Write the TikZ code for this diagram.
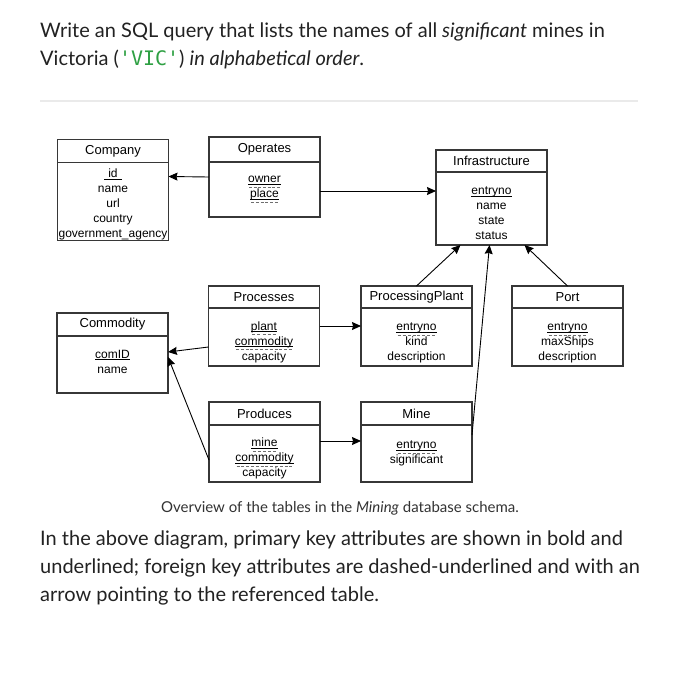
\documentclass[tikz,border=0pt]{standalone}
\usepackage{fontspec}
\setmainfont{Lato}
\setmonofont{DejaVu Sans Mono}
\newfontfamily\erfont{Liberation Sans}
\usetikzlibrary{arrows.meta,positioning}
\definecolor{bodytext}{RGB}{34,34,34}
\definecolor{captext}{RGB}{51,51,51}
\definecolor{codegreen}{RGB}{46,160,67}
\definecolor{rulegray}{RGB}{234,234,234}
\definecolor{boxgray}{RGB}{55,55,55}
\definecolor{dashgray}{RGB}{110,110,110}

% key markers: solid underline, dashed underline for foreign keys
\newcommand\pkey[1]{\setbox0\hbox{#1}\rlap{\rule[-2pt]{\wd0}{0.9pt}}\box0}
\newcommand\fkey[1]{\setbox0\hbox{#1}\rlap{\rule[-2pt]{\wd0}{0.9pt}}%
\rlap{\raisebox{-5pt}{\color{dashgray}\hbox to\wd0{\xleaders\hbox to 4.5pt{\hss\rule{3pt}{0.8pt}\hss}\hfill}}}\box0}
% struts to push the attribute list up or down in its box
\newcommand\padtop[1]{\rule{0pt}{#1}}
\newcommand\padbot[1]{\rule[-#1]{0pt}{0pt}}

\begin{document}
\begin{tikzpicture}[
x=1pt, y=-1pt,
tblhead/.style={
draw=boxgray,
line width=1.1pt,
fill=white,
minimum width=111pt,
minimum height=23pt,
inner sep=0pt,
outer sep=0pt,
font=\erfont\fontsize{13}{15}\selectfont
},
tblbody/.style={
draw=boxgray,
line width=1.1pt,
minimum width=111pt,
align=center,
inner sep=0pt,
outer sep=0pt,
font=\erfont\fontsize{12}{15}\selectfont
},
fkarrow/.style={
-{Stealth[length=9pt,width=8pt,inset=1pt]},
line width=0.9pt,
draw=black
}
]
\fill[white] (0,0) rectangle (691,675);
\useasboundingbox (0,0) rectangle (691,675);

\node[anchor=north west, align=left, inner sep=0pt, text=bodytext,
font=\fontsize{20}{28}\selectfont] (question) at (40,23)
{Write an SQL query that lists the names of all \emph{significant} mines in\\
Victoria (\textcolor{codegreen}{\texttt{\textquotesingle VIC\textquotesingle}}) \emph{in alphabetical order}.};

\draw[rulegray, line width=1.5pt] (40,101) -- (638,101);

\node[tblhead] (company) at (113,151) {Company};
\node[tblbody, minimum height=78pt, below=0pt of company] (companyb)
{\padtop{14.8pt}\pkey{\kern4pt id\kern4pt}\\name\\url\\country\\government\_agency};

\node[tblhead, minimum height=25pt] (operates) at (264.5,149.5) {Operates};
\node[tblbody, minimum height=55pt, below=0pt of operates] (operatesb)
{\fkey{owner}\\\fkey{place}};

\node[tblhead, minimum height=22pt] (infra) at (491.5,161) {Infrastructure};
\node[tblbody, minimum height=73pt, below=0pt of infra] (infrab)
{\padtop{18pt}\pkey{entryno}\\name\\state\\status};

\node[tblhead, minimum height=22pt] (processes) at (264,297) {Processes};
\node[tblbody, minimum height=58pt, below=0pt of processes] (processesb)
{\padtop{18.6pt}\fkey{plant}\\\fkey{commodity}\\capacity};

\node[tblhead] (commodity) at (112.5,324.5) {Commodity};
\node[tblbody, minimum height=57pt, below=0pt of commodity] (commodityb)
{\pkey{comID}\\name\padbot{6pt}};

\node[tblhead, minimum height=22pt] (plant) at (416.5,297) {ProcessingPlant};
\node[tblbody, minimum height=58pt, below=0pt of plant] (plantb)
{\padtop{20pt}\fkey{entryno}\\kind\\description};

\node[tblhead, minimum height=22pt] (port) at (567.5,297) {Port};
\node[tblbody, minimum height=58pt, below=0pt of port] (portb)
{\padtop{20pt}\fkey{entryno}\\maxShips\\description};

\node[tblhead] (produces) at (264.5,413.5) {Produces};
\node[tblbody, minimum height=57pt, below=0pt of produces] (producesb)
{\padtop{18.6pt}\fkey{mine}\\\fkey{commodity}\\capacity};

\node[tblhead] (mine) at (416.5,413.5) {Mine};
\node[tblbody, minimum height=57pt, below=0pt of mine] (mineb)
{\fkey{entryno}\\significant};

\draw[fkarrow] ([yshift=-15pt]operatesb.north west) -- ([yshift=-14pt]companyb.north east);
\draw[fkarrow] ([yshift=-29pt]operatesb.north east) -- ([yshift=-19pt]infrab.north west);
\draw[fkarrow] ([yshift=-18pt]processesb.north east) -- ([yshift=-18pt]plantb.north west);
\draw[fkarrow] ([yshift=-39pt]processesb.north west) -- ([yshift=-16pt]commodityb.north east);
\draw[fkarrow] ([yshift=-35pt]producesb.north west) -- ([yshift=-21pt]commodityb.north east);
\draw[fkarrow] ([yshift=-16pt]producesb.north east) -- ([yshift=-16pt]mineb.north west);
\draw[fkarrow] ([yshift=-10pt]mineb.north east) -- ([xshift=-2pt]infrab.south);
\draw[fkarrow] (plant.north) -- ([xshift=-31pt]infrab.south);
\draw[fkarrow] (port.north) -- ([xshift=33pt]infrab.south);

\node[text=captext, font=\fontsize{15}{18}\selectfont] (caption) at (340,508)
{Overview of the tables in the \emph{Mining} database schema.};

\node[anchor=north west, align=left, inner sep=0pt, text=bodytext,
font=\fontsize{20}{28}\selectfont] (note) at (40,531)
{In the above diagram, primary key attributes are shown in bold and\\
underlined; foreign key attributes are dashed-underlined and with an\\
arrow pointing to the referenced table.};
\end{tikzpicture}
\end{document}
